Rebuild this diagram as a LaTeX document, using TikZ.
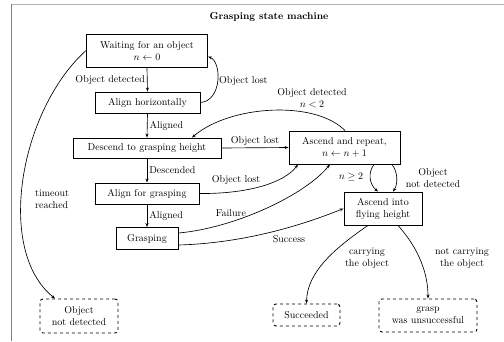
\documentclass[tikz,border=0pt]{standalone}
\usetikzlibrary{arrows.meta}
\begin{document}
\begin{tikzpicture}[x=1pt,y=-1pt,
  state/.style={draw,line width=0.9pt,align=center,inner xsep=2pt,inner ysep=1pt},
  final/.style={draw,line width=0.9pt,dashed,rounded corners=3pt,align=center,inner xsep=2pt,inner ysep=1pt},
  arr/.style={-{Stealth[length=4pt,width=3pt]},line width=0.65pt},
  lbl/.style={align=center,inner sep=1pt}]
\useasboundingbox (0,0) rectangle (504,341);
\draw[gray!60,line width=0.8pt] (11,4) -- (504,4);
\draw[gray,line width=0.8pt] (11,4) -- (11,341);
\node (title) at (269,17) {\textbf{Grasping state machine}};
% states
\node[state,minimum width=121pt,minimum height=33pt] (wait) at (147,50.5) {Waiting for an object\\$n \leftarrow 0$};
\node[state,minimum width=105pt,minimum height=21pt] (alignh) at (147.5,102.5) {Align horizontally};
\node[state,minimum width=148pt,minimum height=20pt] (descend) at (147,148) {Descend to grasping height};
\node[state,minimum width=104pt,minimum height=21pt] (aligng) at (147,193.5) {Align for grasping};
\node[state,minimum width=62pt,minimum height=22pt] (grasp) at (147,238.5) {Grasping};
\node[state,minimum width=111pt,minimum height=33pt] (repeat) at (344.5,147.5) {Ascend and repeat,\\$n \leftarrow n+1$};
\node[state,minimum width=78pt,minimum height=33pt] (fly) at (383,208.5) {Ascend into\\flying height};
\node[final,minimum width=78pt,minimum height=34pt] (notdet) at (79,316) {Object\\not detected};
\node[final,minimum width=67pt,minimum height=22pt] (succ) at (306.5,315) {Succeeded};
\node[final,minimum width=98pt,minimum height=33pt] (unsucc) at (428,315.5) {grasp\\was unsuccessful};
% coordinates on boxes
\coordinate (wE) at ([yshift=-6pt]wait.east);
\coordinate (rS1) at (repeat.south -| 298,0);
\coordinate (rS2) at (repeat.south -| 330,0);
\coordinate (rS3) at (repeat.south -| 374,0);
\coordinate (rS4) at (repeat.south -| 392,0);
\coordinate (rN) at (repeat.north -| 345,0);
\coordinate (dN) at (descend.north -| 192,0);
\coordinate (fN1) at (fly.north -| 378,0);
\coordinate (fN2) at (fly.north -| 393,0);
\coordinate (fS1) at (fly.south -| 368,0);
\coordinate (fS2) at (fly.south -| 398,0);
\coordinate (gE1) at (grasp.east |- 0,233);
\coordinate (gE2) at (grasp.east |- 0,245);
\coordinate (uN) at (unsucc.north -| 428,0);
\coordinate (nN) at (notdet.north -| 55,0);
% straight transitions
\draw[arr] (wait.south) -- node[lbl,left=1pt] {Object detected} (alignh.north);
\draw[arr] (alignh.south) -- node[lbl,right=1pt] {Aligned} (descend.north);
\draw[arr] (descend.south) -- node[lbl,right=1pt] {Descended} (aligng.north);
\draw[arr] (aligng.south) -- node[lbl,right=1pt] {Aligned} (grasp.north);
\draw[arr] (descend.east) -- node[lbl,above=1pt] {Object lost} (repeat.west);
% curved transitions
\draw[arr] (alignh.east) .. controls (222,101) and (222,62) .. (wE);
\node[lbl,anchor=west] (lostA) at (218,81) {Object lost};
\draw[arr] (aligng.east) .. controls (250,194) and (285,182) .. (rS1);
\node[lbl] (lostB) at (236,180) {Object lost};
\draw[arr] (gE1) .. controls (235,228) and (305,195) .. (rS2);
\node[lbl] (fail) at (231,213) {Failure};
\draw[arr] (gE2) .. controls (250,243) and (310,222) .. (fly.west);
\node[lbl] (succl) at (289,239) {Success};
\draw[arr] (rN) .. controls (315,100) and (230,105) .. (dN);
\node[lbl] (detl) at (312,98) {Object detected\\$n<2$};
\draw[arr] (rS3) .. controls (368,172) and (369,184) .. (fN1);
\node[lbl] (ngeq) at (351,177) {$n \geq 2$};
\draw[arr] (rS4) .. controls (398,172) and (398,184) .. (fN2);
\node[lbl] (notdl) at (433,178) {Object\\not detected};
\draw[arr] (fS1) .. controls (335,248) and (307,272) .. (succ.north);
\node[lbl] (carry) at (367,258) {carrying\\the object};
\draw[arr] (fS2) .. controls (420,250) and (428,275) .. (uN);
\node[lbl] (ncarry) at (462,258) {not carrying\\the object};
\draw[arr] (wait.west) .. controls (20,110) and (-5,250) .. (nN);
\node[lbl,align=left,anchor=west] (tout) at (34,199) {timeout\\reached};
\end{tikzpicture}
\end{document}
